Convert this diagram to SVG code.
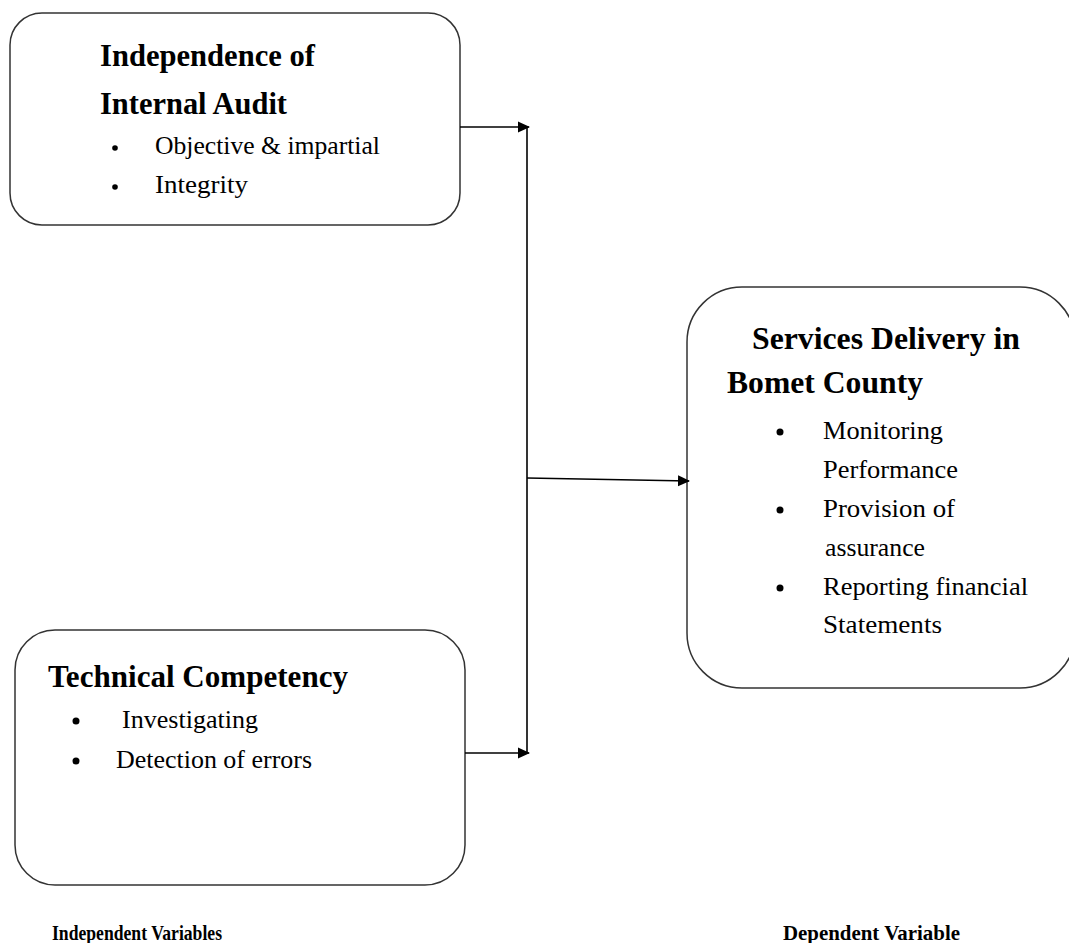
<svg xmlns="http://www.w3.org/2000/svg" width="1069" height="943" viewBox="0 0 1069 943">
<defs>
<marker id="ah" markerWidth="12" markerHeight="12" refX="11" refY="6" orient="auto" markerUnits="userSpaceOnUse">
<path d="M0,0.5 L12,6 L0,11.5 Z" fill="#000"/>
</marker>
<style>
.box{fill:#fff;stroke:#333;stroke-width:1.5}
.h{font-family:"Liberation Serif",serif;font-weight:bold;font-size:31px;fill:#000}
.t{font-family:"Liberation Serif",serif;font-size:26px;fill:#000}
.f{font-family:"Liberation Serif",serif;font-weight:bold;font-size:22px;fill:#000}
.c{fill:none;stroke:#000;stroke-width:1.6}
</style>
</defs>
<rect width="1069" height="943" fill="#fff"/>
<g id="node-independence">
<rect class="box" x="10" y="13" width="450" height="212" rx="32" ry="32"/>
<text class="h" x="100" y="66" textLength="215" lengthAdjust="spacingAndGlyphs">Independence of</text>
<text class="h" x="100" y="114" textLength="187" lengthAdjust="spacingAndGlyphs">Internal Audit</text>
<circle cx="115" cy="148" r="2.8" fill="#000"/>
<text class="t" x="155" y="154" textLength="225" lengthAdjust="spacingAndGlyphs">Objective &amp; impartial</text>
<circle cx="115" cy="187" r="2.8" fill="#000"/>
<text class="t" x="155" y="193" textLength="93" lengthAdjust="spacingAndGlyphs">Integrity</text>
</g>
<g id="node-technical">
<rect class="box" x="15" y="630" width="450" height="255" rx="40" ry="40"/>
<text class="h" x="48" y="687" textLength="300" lengthAdjust="spacingAndGlyphs">Technical Competency</text>
<circle cx="76" cy="721" r="3.5" fill="#000"/>
<text class="t" x="122" y="728" textLength="136" lengthAdjust="spacingAndGlyphs">Investigating</text>
<circle cx="76" cy="761" r="3.5" fill="#000"/>
<text class="t" x="116" y="768" textLength="196" lengthAdjust="spacingAndGlyphs">Detection of errors</text>
</g>
<g id="node-services">
<rect class="box" x="687" y="287" width="388" height="401" rx="55" ry="55"/>
<text class="h" x="752" y="349" textLength="268" lengthAdjust="spacingAndGlyphs">Services Delivery in</text>
<text class="h" x="727" y="393" textLength="196" lengthAdjust="spacingAndGlyphs">Bomet County</text>
<circle cx="780" cy="432" r="3.5" fill="#000"/>
<text class="t" x="823" y="439" textLength="120" lengthAdjust="spacingAndGlyphs">Monitoring</text>
<text class="t" x="823" y="478" textLength="135" lengthAdjust="spacingAndGlyphs">Performance</text>
<circle cx="780" cy="510" r="3.5" fill="#000"/>
<text class="t" x="823" y="517" textLength="132" lengthAdjust="spacingAndGlyphs">Provision of</text>
<text class="t" x="825" y="556" textLength="100" lengthAdjust="spacingAndGlyphs">assurance</text>
<circle cx="780" cy="588" r="3.5" fill="#000"/>
<text class="t" x="823" y="595" textLength="205" lengthAdjust="spacingAndGlyphs">Reporting financial</text>
<text class="t" x="823" y="633" textLength="119" lengthAdjust="spacingAndGlyphs">Statements</text>
</g>
<g id="connectors">
<line class="c" x1="460" y1="127" x2="529" y2="127" marker-end="url(#ah)"/>
<line class="c" x1="527" y1="127" x2="527" y2="753"/>
<line class="c" x1="465" y1="753" x2="529" y2="753" marker-end="url(#ah)"/>
<line class="c" x1="527" y1="478" x2="689" y2="481" marker-end="url(#ah)"/>
</g>
<g id="labels">
<text class="f" x="52" y="940" textLength="170" lengthAdjust="spacingAndGlyphs">Independent Variables</text>
<text class="f" x="783" y="940" textLength="177" lengthAdjust="spacingAndGlyphs">Dependent Variable</text>
</g>
</svg>
